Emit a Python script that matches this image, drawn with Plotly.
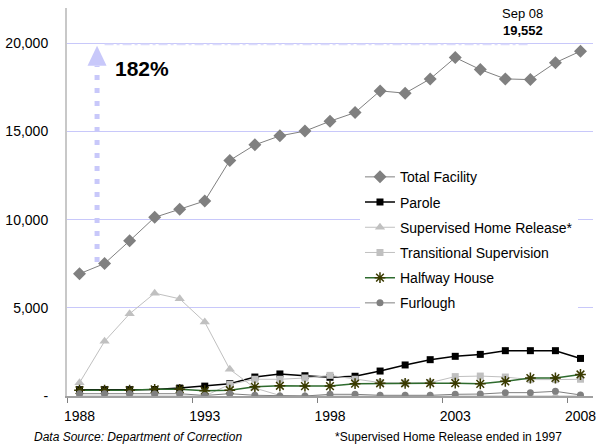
import plotly.graph_objects as go

# ---------------- data ----------------
years = list(range(1988, 2009))
total_facility = [6930, 7510, 8800, 10130, 10590, 11060, 13360, 14240, 14750, 15020,
                  15580, 16070, 17300, 17170, 17980, 19190, 18510, 17980, 17940, 18900, 19552]
parole = [360, 360, 360, 370, 450, 560, 700, 1075, 1250, 1150,
          1060, 1120, 1415, 1760, 2060, 2250, 2360, 2570, 2570, 2570, 2130]
supervised_home_release = [750, 3100, 4660, 5830, 5510, 4190, 1510, 450, 30, 0,
                           0, 0, 0, 0, 0, 0, 0, 0, 0, 0, 0]
transitional_supervision = [0, 0, 0, 0, 0, 0, 660, 950, 950, 1020,
                            1170, 950, 760, 740, 760, 1100, 1130, 1075, 930, 930, 950]
halfway_house = [330, 330, 330, 380, 380, 300, 330, 520, 580, 560,
                 560, 700, 720, 720, 730, 730, 690, 830, 1020, 1020, 1220]
furlough = [130, 130, 130, 120, 130, 30, 130, 40, 0, 0,
            96, 96, 40, 40, 40, 96, 110, 190, 190, 265, 60]

label_years = [1988, 1993, 1998, 2003, 2008]
y_ticks = [0, 5000, 10000, 15000, 20000]
y_ticktext = ["-", "5,000", "10,000", "15,000", "20,000"]

latest_label = "Sep 08"
source_note = "Data Source: Department of Correction"
shr_note = "*Supervised Home Release ended in 1997"

# ---------------- figure ----------------
x = list(range(len(years)))
FONT = "Liberation Sans, Arial, sans-serif"

series = [
    ("Total Facility", total_facility, dict(color="#808080", width=1),
     dict(symbol="diamond", size=10, color="#808080")),
    ("Parole", parole, dict(color="#000000", width=1.5),
     dict(symbol="square", size=7, color="#000000")),
    ("Supervised Home Release*", supervised_home_release, dict(color="#c0c0c0", width=1),
     dict(symbol="triangle-up", size=9, color="#c0c0c0")),
    ("Transitional Supervision", transitional_supervision, dict(color="#c0c0c0", width=1),
     dict(symbol="square", size=7, color="#c0c0c0")),
    ("Halfway House", halfway_house, dict(color="#2e6b2e", width=1.5),
     dict(symbol="asterisk-open", size=9, color="#3a3a00", line=dict(color="#3a3a00", width=1.5))),
    ("Furlough", furlough, dict(color="#808080", width=1),
     dict(symbol="circle", size=7, color="#808080")),
]

fig = go.Figure()
for i, (name, vals, line, marker) in enumerate(series):
    fig.add_trace(go.Scatter(x=x, y=vals, name=name, mode="lines+markers",
                             line=line, marker=marker, legendgroup=f"g{i}"))

# growth arrow (dotted, lavender)
arrow_x = 0.7
arrow_bottom = 7600
arrow_base = 18730
arrow_tip = 19860
arrow_half = 0.38
ARROW_C = "#c8c8fa"
fig.add_shape(type="line", xref="x", yref="y", x0=arrow_x, x1=arrow_x,
              y0=arrow_bottom, y1=arrow_base, line=dict(color=ARROW_C, width=5, dash="5px,8px"))
fig.add_shape(type="path", xref="x", yref="y",
              path=f"M{arrow_x-arrow_half},{arrow_base} L{arrow_x+arrow_half},{arrow_base} L{arrow_x},{arrow_tip} Z",
              fillcolor=ARROW_C, line=dict(width=0))
# dash-dot reference line near the peak
fig.add_shape(type="line", xref="x", yref="y", x0=1.0, x1=17.9, y0=19930, y1=19930,
              line=dict(color="#dcdcfc", width=1.5, dash="dashdot"))

growth = round((total_facility[-1] / total_facility[0] - 1) * 100)
fig.add_annotation(text=f"<b>{growth}%</b>", xref="x", yref="paper", x=1.33, y=0.845,
                   xanchor="left", yanchor="middle", showarrow=False,
                   font=dict(size=21, color="#000000", family=FONT))
fig.add_annotation(text=latest_label, xref="x", yref="paper", x=17.7, y=0.987,
                   xanchor="center", yanchor="middle", showarrow=False,
                   font=dict(size=13, color="#000000", family=FONT))
fig.add_annotation(text=f"<b>{total_facility[-1]:,}</b>", xref="x", yref="paper", x=17.7, y=0.941,
                   xanchor="center", yanchor="middle", showarrow=False,
                   font=dict(size=13, color="#000000", family=FONT))
fig.add_annotation(text=f"<i>{source_note}</i>", xref="paper", yref="paper", x=-0.066, y=-0.106,
                   xanchor="left", yanchor="middle", showarrow=False,
                   font=dict(size=12, color="#000000", family=FONT))
fig.add_annotation(text=shr_note, xref="paper", yref="paper", x=0.945, y=-0.106,
                   xanchor="right", yanchor="middle", showarrow=False,
                   font=dict(size=12, color="#000000", family=FONT))

fig.update_layout(
    width=600, height=446,
    margin=dict(l=67, r=4, t=8, b=50),
    paper_bgcolor="white", plot_bgcolor="white",
    font=dict(family=FONT, size=14, color="#000000"),
    showlegend=True,
    legend=dict(x=0.557, y=0.605, xanchor="left", yanchor="top",
                bgcolor="white", borderwidth=0, font=dict(size=14, family=FONT),
                traceorder="grouped", tracegroupgap=4, itemwidth=30),
    xaxis=dict(range=[-0.5, len(years) - 0.5], tickmode="array",
               tickvals=[years.index(y) for y in label_years],
               ticktext=[str(y) for y in label_years],
               ticks="", showgrid=False, zeroline=False,
               showline=True, linecolor="#a0a0a0", linewidth=2,
               ticklabelstandoff=6,
               minor=dict(tickmode="linear", tick0=-0.5, dtick=5, ticks="outside",
                          ticklen=5, tickcolor="#808080", tickwidth=1, showgrid=False),
               tickfont=dict(size=14, family=FONT)),
    yaxis=dict(range=[0, 22000], tickmode="array", tickvals=y_ticks, ticktext=y_ticktext,
               ticks="", showgrid=True, gridcolor="#c8c8fa", gridwidth=1,
               zeroline=False, showline=True, linecolor="#c8c8c8", linewidth=2,
               ticklabelstandoff=14, tickfont=dict(size=14, family=FONT)),
)

fig.write_html("out.html", config={"displayModeBar": False},
               post_script="document.body.style.margin='0px';")
